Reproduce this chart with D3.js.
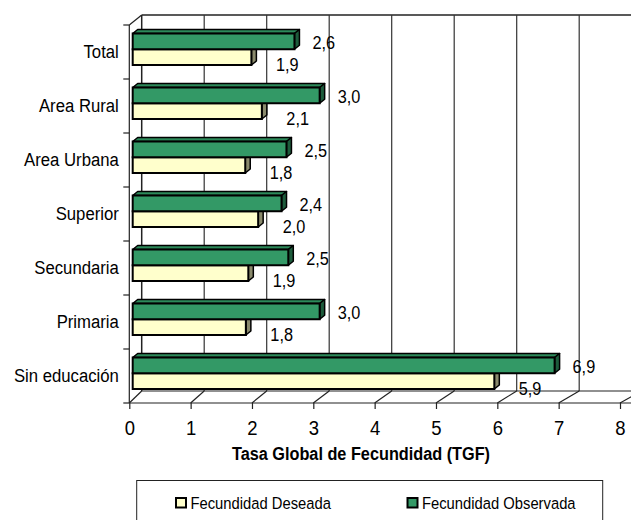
<!DOCTYPE html>
<html><head><meta charset="utf-8">
<script src="https://cdn.jsdelivr.net/npm/d3@7"></script>
<style>
body{margin:0;background:#fff}
svg text{font-family:'Liberation Sans',Arial,sans-serif;fill:#000}
</style>
</head><body><svg id="c" width="631" height="520"></svg>
<script>
// ---- data ----
const categories = ["Total","Area Rural","Area Urbana","Superior","Secundaria","Primaria","Sin educación"];
const deseada    = [1.93, 2.10, 1.83, 2.04, 1.88, 1.84, 5.88];
const observada  = [2.63, 3.04, 2.50, 2.42, 2.53, 3.04, 6.86];
const seriesNames = ["Fecundidad Deseada","Fecundidad Observada"];
const xTicks = [0,1,2,3,4,5,6,7,8];
const axisTitle = "Tasa Global de Fecundidad (TGF)";

// ---- layout ----
const svg = d3.select("#c");
const W = 631;
const NARROW = 0.88;
const xFront = d3.scaleLinear().domain([0,8]).range([129.3, 620]);
const xBack  = d3.scaleLinear().domain([0,8]).range([141.7, 641.7]);
const xBar   = d3.scaleLinear().domain([0,8]).range([132.7, 132.7 + 8*61.5]);
const y = d3.scaleBand().domain(categories).range([25, 403]).padding(0);
const backTop = 15, backBottom = 391, frontTop = 25, frontBottom = 403;
const fmt = v => d3.format(".1f")(v).replace(".", ",");
const colors = {
  des: {front:"#ffffcc", top:"#d9d9a8", side:"#8a8a6c"},
  obs: {front:"#339966", top:"#2c8a5a", side:"#1d5c3c"}
};

// back wall
const g = svg.append("g");
g.append("line").attr("x1", xBack(0)).attr("x2", W).attr("y1", backTop).attr("y2", backTop)
  .attr("stroke", "#222").attr("stroke-width", 1.5);
g.append("line").attr("x1", xBack(0)).attr("x2", xBack(0)).attr("y1", backTop).attr("y2", backBottom)
  .attr("stroke", "#222").attr("stroke-width", 1.5);
g.selectAll(".grid").data(xTicks.filter(t => t > 0 && xBack(t) < W)).join("line")
  .attr("x1", d => xBack(d)).attr("x2", d => xBack(d))
  .attr("y1", backTop).attr("y2", backBottom)
  .attr("stroke", "#333").attr("stroke-width", 1.2);
// floor back edge
g.append("line").attr("x1", xBack(0)).attr("x2", W).attr("y1", backBottom).attr("y2", backBottom)
  .attr("stroke", "#222").attr("stroke-width", 1.2);
// floor diagonals
g.selectAll(".fd").data(xTicks).join("line")
  .attr("x1", d => xFront(d)).attr("y1", frontBottom)
  .attr("x2", d => xBack(d)).attr("y2", backBottom)
  .attr("stroke", "#222").attr("stroke-width", 1.2);
// left wall front edge + top diagonal
g.append("line").attr("x1", xFront(0)).attr("x2", xFront(0)).attr("y1", frontTop).attr("y2", frontBottom)
  .attr("stroke", "#222").attr("stroke-width", 1.2);
g.append("line").attr("x1", xFront(0)).attr("y1", frontTop).attr("x2", xBack(0)).attr("y2", backTop)
  .attr("stroke", "#222").attr("stroke-width", 1.2);
// front floor edge
g.append("line").attr("x1", xFront(0)).attr("x2", W).attr("y1", frontBottom).attr("y2", frontBottom)
  .attr("stroke", "#222").attr("stroke-width", 1.2);
// category boundary ticks
const bounds = categories.map(c => y(c)).concat([y.range()[1]]);
g.selectAll(".ct").data(bounds).join("line")
  .attr("x1", xFront(0) - 6).attr("x2", xFront(0)).attr("y1", d => d).attr("y2", d => d)
  .attr("stroke", "#222").attr("stroke-width", 1.2);

// x axis (ticks + labels)
const xAxis = d3.axisBottom(xFront).tickValues(xTicks).tickSize(6).tickSizeOuter(0).tickPadding(11).tickFormat(d3.format("d"));
const ax = svg.append("g").attr("transform", `translate(0,${frontBottom})`).call(xAxis);
ax.select(".domain").remove();
ax.selectAll(".tick line").attr("stroke", "#222").attr("stroke-width", 1.2);
ax.selectAll(".tick text").attr("font-size", 21).attr("fill", "#000")
  .attr("font-family", "'Liberation Sans',Arial,sans-serif");

// y axis labels
const yAxis = d3.axisLeft(y).tickSize(0).tickPadding(10.5);
const ay = svg.append("g").attr("transform", `translate(${xFront(0)},0)`).call(yAxis);
ay.select(".domain").remove();
ay.selectAll(".tick text").attr("font-size", 19).attr("fill", "#000")
  .attr("font-family", "'Liberation Sans',Arial,sans-serif");

// axis title
svg.append("text").attr("x", 361).attr("y", 460).attr("text-anchor", "middle")
  .attr("font-size", 18.5).attr("font-weight", "bold").text(axisTitle);

// bars
const bw = 15.75, dxD = 5, dyD = -4;
function bar3d(sel, x0, x1, y0, c) {
  const gB = sel.append("g");
  gB.append("path").attr("d", `M${x0},${y0} L${x0+dxD},${y0+dyD} L${x1+dxD},${y0+dyD} L${x1},${y0} Z`)
    .attr("fill", c.top).attr("stroke", "#000").attr("stroke-width", 1.5).attr("stroke-linejoin", "round");
  gB.append("path").attr("d", `M${x1},${y0} L${x1+dxD},${y0+dyD} L${x1+dxD},${y0+bw+dyD} L${x1},${y0+bw} Z`)
    .attr("fill", c.side).attr("stroke", "#000").attr("stroke-width", 1.5).attr("stroke-linejoin", "round");
  gB.append("rect").attr("x", x0).attr("y", y0).attr("width", x1 - x0).attr("height", bw)
    .attr("fill", c.front).attr("stroke", "#000").attr("stroke-width", 2);
}
const barsG = svg.append("g");
categories.forEach((cat, i) => {
  const top = y(cat);
  bar3d(barsG, xBar(0), xBar(deseada[i]), top + 8.5 + bw, colors.des);
  bar3d(barsG, xBar(0), xBar(observada[i]), top + 8.5, colors.obs);
});

// value labels
const lab = svg.append("g").attr("font-size", 18.5);
lab.selectAll(".lo").data(categories).join("text")
  .attr("x", (d, i) => xBar(observada[i]) + 18)
  .attr("y", d => y(d) + 24)
  .text((d, i) => fmt(observada[i]));
lab.selectAll(".ld").data(categories).join("text")
  .attr("x", (d, i) => xBar(deseada[i]) + 24.5)
  .attr("y", d => y(d) + 46)
  .text((d, i) => fmt(deseada[i]));

// legend
const lg = svg.append("g");
lg.append("rect").attr("x", 136.7).attr("y", 480.5).attr("width", 466).attr("height", 60)
  .attr("fill", "#fff").attr("stroke", "#222").attr("stroke-width", 1);
const legendItems = [
  {name: seriesNames[0], c: colors.des, x: 175},
  {name: seriesNames[1], c: colors.obs, x: 406.5}
];
legendItems.forEach(it => {
  lg.append("rect").attr("x", it.x + 1).attr("y", 498).attr("width", 10).attr("height", 9.5)
    .attr("fill", it.c.front).attr("stroke", "#000").attr("stroke-width", 2);
  lg.append("text").attr("x", it.x + 15.5).attr("y", 509).attr("font-size", 16.8).text(it.name);
});

// condense all text horizontally (Arial Narrow look)
svg.selectAll("text").each(function() {
  const t = d3.select(this);
  const x = +(t.attr("x") || 0);
  t.attr("x", x / NARROW);
  const tr = t.attr("transform") || "";
  t.attr("transform", (tr ? tr + " " : "") + `scale(${NARROW},1)`);
});
</script>
</body></html>
